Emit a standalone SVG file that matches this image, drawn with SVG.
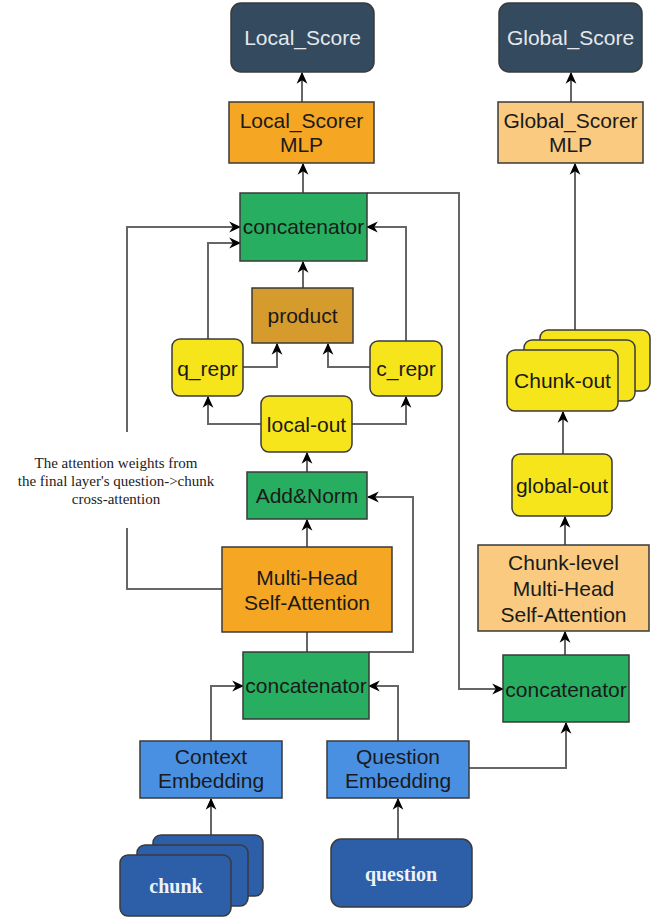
<svg xmlns="http://www.w3.org/2000/svg" width="667" height="920" viewBox="0 0 667 920">
<defs>
<marker id="arr" markerUnits="userSpaceOnUse" markerWidth="12" markerHeight="12" viewBox="0 0 10 10" refX="9" refY="5" orient="auto">
<path d="M0,0.5 L10,5 L0,9.5 L3,5 z" fill="#000"/>
</marker>
<style>
.n{stroke:#3a3a3a;stroke-width:1.5}
.t{font-family:"Liberation Sans",Arial,sans-serif;font-size:21px;fill:#1a1a1a;text-anchor:middle}
.tl{font-family:"Liberation Sans",Arial,sans-serif;font-size:21px;fill:#e4e8ec;text-anchor:middle}
.ts{font-family:"Liberation Serif","Times New Roman",serif;font-size:20px;font-weight:bold;fill:#eef2f8;text-anchor:middle}
.note{font-family:"Liberation Serif","Times New Roman",serif;font-size:15px;fill:#222;text-anchor:middle}
.navy{fill:#344a5e}
.orange{fill:#f5a623}
.lorange{fill:#f9ca7f}
.green{fill:#27ae60}
.yellow{fill:#f7e51c}
.gold{fill:#d59b2d}
.blue{fill:#4a90e2}
.dblue{fill:#2d5ea8}
.c{fill:none;stroke:#666;stroke-width:2}
.a{marker-end:url(#arr)}
</style>
</defs>
<g id="connectors">
<path class="c a" d="M302,102 L302,73"/>
<path class="c a" d="M303,193 L303,164"/>
<path class="c a" d="M571,102 L571,73"/>
<path class="c a" d="M575,330 L575,164"/>
<path class="c a" d="M303,288 L303,262"/>
<path class="c a" d="M208,339 L208,243 L240,243"/>
<path class="c a" d="M406,341 L406,227 L367,227"/>
<path class="c a" d="M243,367 L277,367 L277,344"/>
<path class="c a" d="M370,367 L328,367 L328,344"/>
<path class="c a" d="M261,424 L208,424 L208,397"/>
<path class="c a" d="M352,424 L406,424 L406,397"/>
<path class="c a" d="M307,472 L307,453"/>
<path class="c a" d="M307,547 L307,520"/>
<path class="c" d="M307,652 L307,632"/>
<path class="c a" d="M369,652 L413,652 L413,497 L368,497"/>
<path class="c a" d="M222,589 L127,589 L127,528 M127,432 L127,227 L240,227"/>
<path class="c a" d="M367,193 L459,193 L459,689 L503,689"/>
<path class="c a" d="M211,741 L211,686 L243,686"/>
<path class="c a" d="M398,741 L398,686 L369,686"/>
<path class="c a" d="M469,768 L566,768 L566,723"/>
<path class="c a" d="M211,835 L211,799"/>
<path class="c a" d="M398,839 L398,799"/>
<path class="c a" d="M565,545 L565,517"/>
<path class="c a" d="M563,454 L563,412"/>
<path class="c a" d="M565,655 L565,632"/>
<text class="note" x="116" y="468">The attention weights from</text>
<text class="note" x="116" y="486">the final layer's question-&gt;chunk</text>
<text class="note" x="116" y="504">cross-attention</text>
</g>
<g id="local_score"><rect class="n navy" x="231" y="3" width="143" height="69" rx="10"/><text class="tl" x="302.5" y="45">Local_Score</text></g>
<g id="global_score"><rect class="n navy" x="499" y="3" width="143" height="69" rx="10"/><text class="tl" x="570.5" y="45">Global_Score</text></g>
<g id="local_scorer"><rect class="n orange" x="229" y="102" width="145" height="61"/><text class="t" x="301.5" y="128">Local_Scorer</text><text class="t" x="301.5" y="152">MLP</text></g>
<g id="global_scorer"><rect class="n lorange" x="498" y="102" width="145" height="61"/><text class="t" x="570.5" y="128">Global_Scorer</text><text class="t" x="570.5" y="152">MLP</text></g>
<g id="concat_top"><rect class="n green" x="240" y="193" width="127" height="68"/><text class="t" x="303.5" y="234">concatenator</text></g>
<g id="product"><rect class="n gold" x="252" y="288" width="101" height="55"/><text class="t" x="302.5" y="323">product</text></g>
<g id="q_repr"><rect class="n yellow" x="172" y="339" width="71" height="57" rx="8"/><text class="t" x="207.5" y="376">q_repr</text></g>
<g id="c_repr"><rect class="n yellow" x="370" y="341" width="72" height="55" rx="8"/><text class="t" x="406" y="376">c_repr</text></g>
<g id="local_out"><rect class="n yellow" x="261" y="396" width="91" height="56" rx="8"/><text class="t" x="306.5" y="432">local-out</text></g>
<g id="add_norm"><rect class="n green" x="247" y="472" width="120" height="47"/><text class="t" x="307" y="503">Add&amp;Norm</text></g>
<g id="mhsa"><rect class="n orange" x="222" y="547" width="170" height="85"/><text class="t" x="307" y="585">Multi-Head</text><text class="t" x="307" y="610">Self-Attention</text></g>
<g id="concat_bottom"><rect class="n green" x="243" y="652" width="126" height="67"/><text class="t" x="306" y="693">concatenator</text></g>
<g id="concat_right"><rect class="n green" x="503" y="655" width="126" height="67"/><text class="t" x="566" y="697">concatenator</text></g>
<g id="chunk_mhsa"><rect class="n lorange" x="478" y="545" width="171" height="86"/><text class="t" x="563.5" y="570">Chunk-level</text><text class="t" x="563.5" y="596">Multi-Head</text><text class="t" x="563.5" y="622">Self-Attention</text></g>
<g id="global_out"><rect class="n yellow" x="512" y="454" width="100" height="62" rx="8"/><text class="t" x="562" y="493">global-out</text></g>
<g id="chunk_out"><rect class="n yellow" x="540" y="330" width="110" height="61" rx="8"/><rect class="n yellow" x="524" y="340" width="111" height="61" rx="8"/><rect class="n yellow" x="507" y="350" width="111" height="61" rx="8"/><text class="t" x="562.5" y="388">Chunk-out</text></g>
<g id="context_emb"><rect class="n blue" x="140" y="741" width="142" height="57"/><text class="t" x="211" y="764">Context</text><text class="t" x="211" y="788">Embedding</text></g>
<g id="question_emb"><rect class="n blue" x="327" y="741" width="142" height="57"/><text class="t" x="398" y="764">Question</text><text class="t" x="398" y="788">Embedding</text></g>
<g id="chunk"><rect class="n dblue" x="153" y="835" width="110" height="61" rx="8"/><rect class="n dblue" x="137" y="845" width="111" height="61" rx="8"/><rect class="n dblue" x="120" y="855" width="111" height="61" rx="8"/><text class="ts" x="176" y="893">chunk</text></g>
<g id="question"><rect class="n dblue" x="331" y="839" width="141" height="68" rx="10"/><text class="ts" x="401" y="881">question</text></g>
</svg>
